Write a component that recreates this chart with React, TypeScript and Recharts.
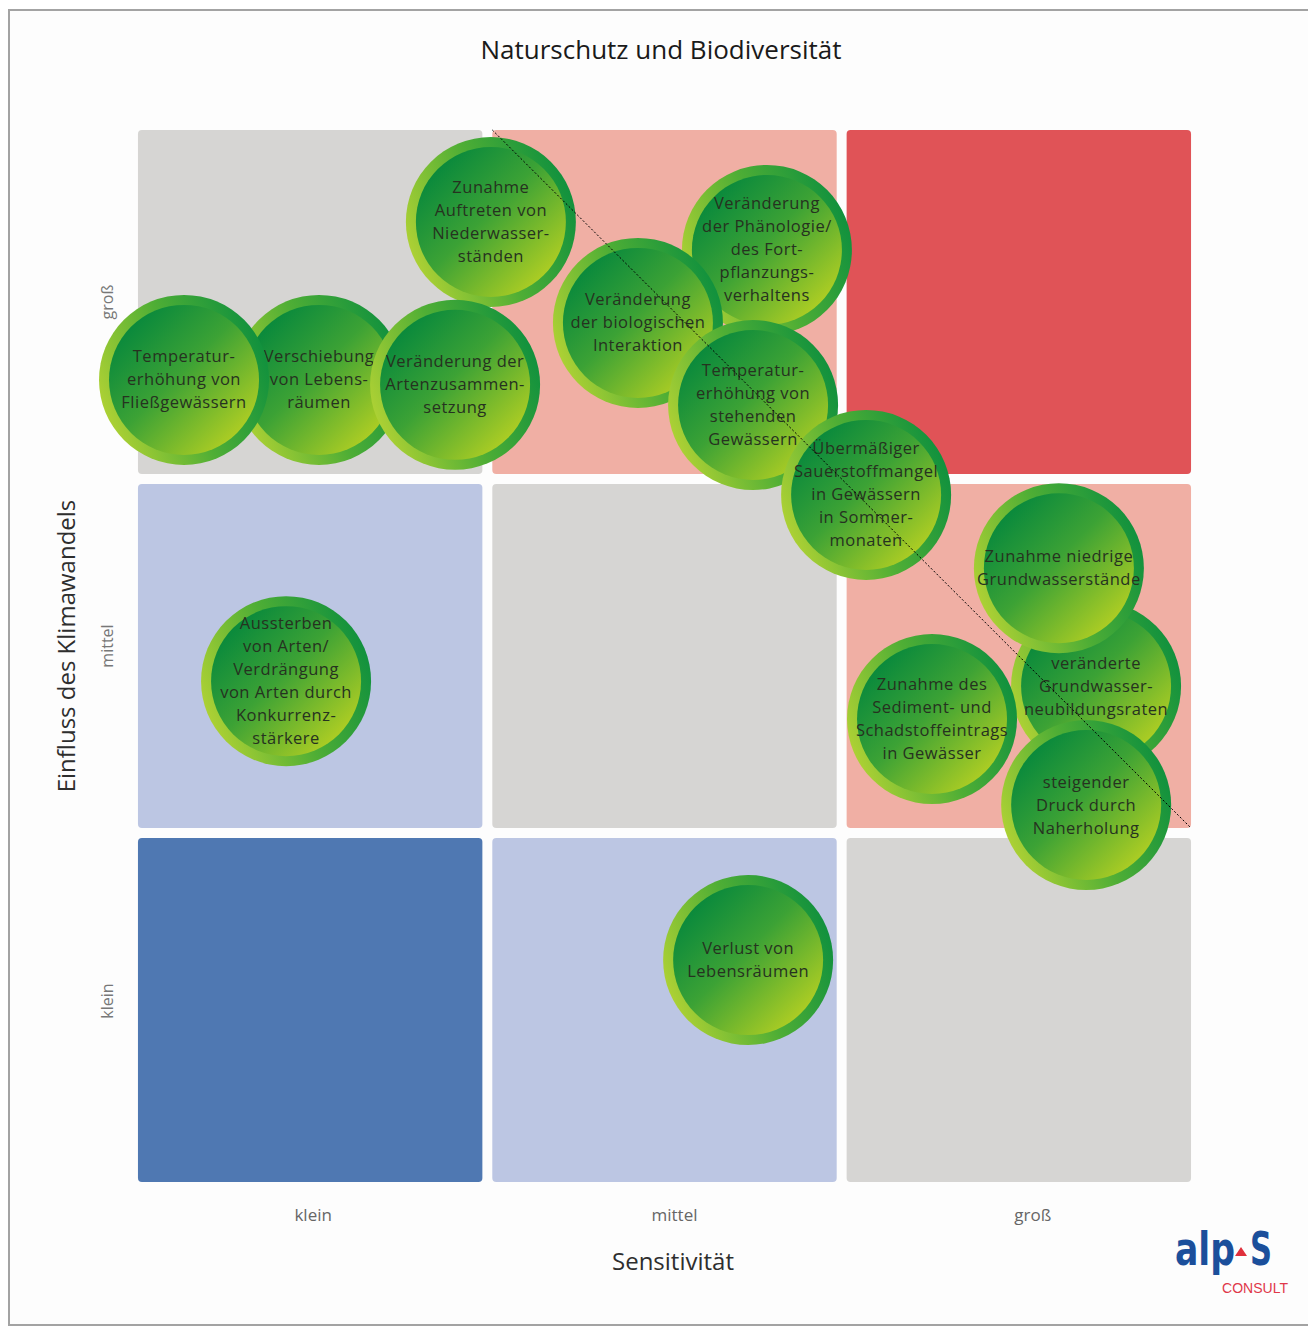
import {
  ScatterChart,
  Scatter,
  XAxis,
  YAxis,
  ReferenceArea,
  ReferenceLine,
  Label,
} from "recharts";

const levels = ["klein", "mittel", "groß"];
const levelTicks = [0.5, 1.5, 2.5];

// cell colours, row 0 = "klein" (bottom), col 0 = "klein" (left)
const cellColors = [
  ["#4f78b2", "#bcc6e3", "#d6d5d3"],
  ["#bcc6e3", "#d6d5d3", "#f0afa4"],
  ["#d6d5d3", "#f0afa4", "#e05357"],
];

// bubbles, in drawing order
const bubbleLabels: string[][] = [
  ["Verschiebung", "von Lebens-", "räumen"],
  ["Temperatur-", "erhöhung von", "Fließgewässern"],
  ["Zunahme", "Auftreten von", "Niederwasser-", "ständen"],
  ["Veränderung der", "Artenzusammen-", "setzung"],
  ["Veränderung", "der Phänologie/", "des Fort-", "pflanzungs-", "verhaltens"],
  ["Veränderung", "der biologischen", "Interaktion"],
  ["Temperatur-", "erhöhung von", "stehenden", "Gewässern"],
  ["Übermäßiger", "Sauerstoffmangel", "in Gewässern", "in Sommer-", "monaten"],
  ["veränderte", "Grundwasser-", "neubildungsraten"],
  ["Zunahme des", "Sediment- und", "Schadstoffeintrags", "in Gewässer"],
  ["Zunahme niedrige", "Grundwasserstände"],
  ["steigender", "Druck durch", "Naherholung"],
  ["Aussterben", "von Arten/", "Verdrängung", "von Arten durch", "Konkurrenz-", "stärkere"],
  ["Verlust von", "Lebensräumen"],
];
const sensitivity = [0.525, 0.144, 1.01, 0.909, 1.789, 1.425, 1.75, 2.069, 2.718, 2.255, 2.613, 2.69, 0.432, 1.736];
const impact = [2.28, 2.28, 2.726, 2.266, 2.647, 2.441, 2.209, 1.955, 1.415, 1.322, 1.748, 1.079, 1.429, 0.641];

const bubbles = bubbleLabels.map((lines, i) => ({
  x: sensitivity[i],
  y: impact[i],
  lines,
}));

const INSET = 0.014;

const Bubble = (props: any) => {
  const { cx, cy } = props;
  const lines: string[] = props.payload?.lines ?? props.lines ?? [];
  const lh = 23;
  const top = cy - 1 - ((lines.length - 1) * lh) / 2;
  return (
    <g>
      <defs>
        <linearGradient id="ringGrad" x1="0" y1="0.7" x2="1" y2="0.3">
          <stop offset="0" stopColor="#b3d334" />
          <stop offset="0.5" stopColor="#4fae35" />
          <stop offset="1" stopColor="#0d8f3e" />
        </linearGradient>
        <linearGradient id="coreGrad" x1="0.15" y1="0.15" x2="0.85" y2="0.85">
          <stop offset="0" stopColor="#0b8a3c" />
          <stop offset="0.45" stopColor="#3ca235" />
          <stop offset="1" stopColor="#aacc24" />
        </linearGradient>
      </defs>
      <circle cx={cx} cy={cy} r={85} fill="url(#ringGrad)" />
      <circle cx={cx} cy={cy} r={75} fill="url(#coreGrad)" />
      {lines.map((t, k) => (
        <text
          key={k}
          x={cx}
          y={top + k * lh}
          textAnchor="middle"
          dominantBaseline="central"
          fontFamily="'Open Sans', sans-serif"
          fontSize={16.5}
          letterSpacing={0.5}
          fill="#263220"
        >
          {t}
        </text>
      ))}
    </g>
  );
};

// small nudges so the tick labels sit where the original puts them
const xTickShift = [3, 10, 14];
const yTickShift = [-9, -10, 0];

const XTick = ({ x, y, payload }: any) => {
  const i = Math.floor(payload.value);
  return (
    <text x={x + xTickShift[i]} y={y + 34} textAnchor="middle" fontFamily="'Open Sans', sans-serif" fontSize={17} fill="#666">
      {levels[i]}
    </text>
  );
};

const YTick = ({ x, y, payload }: any) => {
  const i = Math.floor(payload.value);
  const tx = x - 26;
  const ty = y + yTickShift[i];
  return (
    <text
      x={tx}
      y={ty}
      transform={`rotate(-90, ${tx}, ${ty})`}
      textAnchor="middle"
      dominantBaseline="central"
      fontFamily="'Open Sans', sans-serif"
      fontSize={16}
      fill="#777"
    >
      {levels[i]}
    </text>
  );
};

export default function App() {
  return (
    <div
      style={{
        position: "relative",
        width: 1306,
        height: 1313,
        marginTop: 1,
        borderTop: "2px solid #a3a3a3",
        borderLeft: "2px solid #a3a3a3",
        borderBottom: "2px solid #a3a3a3",
        background: "#fdfdfd",
      }}
    >
      <div
        style={{
          position: "absolute",
          left: 0,
          top: 23,
          width: 1302,
          textAlign: "center",
          fontFamily: "'Open Sans', sans-serif",
          fontSize: 26,
          lineHeight: "30px",
          color: "#1a1a1a",
        }}
      >
        Naturschutz und Biodiversität
      </div>
      <ScatterChart width={1306} height={1313} margin={{ top: 114, right: 120, bottom: 77, left: 63 }}>
        <XAxis
          type="number"
          dataKey="x"
          domain={[0, 3]}
          ticks={levelTicks}
          interval={0}
          tick={<XTick />}
          axisLine={false}
          tickLine={false}
          tickSize={0}
          tickMargin={0}
          height={60}
        >
          <Label
            content={() => (
              <text x={663} y={1249} textAnchor="middle" dominantBaseline="central" fontFamily="'Open Sans', sans-serif" fontSize={24} fill="#2e2e2e">
                Sensitivität
              </text>
            )}
          />
        </XAxis>
        <YAxis
          type="number"
          dataKey="y"
          domain={[0, 3]}
          ticks={levelTicks}
          interval={0}
          tick={<YTick />}
          axisLine={false}
          tickLine={false}
          tickSize={0}
          tickMargin={0}
          width={60}
        >
          <Label
            content={() => (
              <text
                x={55}
                y={635}
                transform="rotate(-90, 55, 635)"
                textAnchor="middle"
                dominantBaseline="central"
                fontFamily="'Open Sans', sans-serif"
                fontSize={24}
                fill="#2e2e2e"
              >
                Einfluss des Klimawandels
              </text>
            )}
          />
        </YAxis>
        {cellColors.map((row, r) =>
          row.map((color, c) => (
            <ReferenceArea
              key={`${r}-${c}`}
              x1={c + INSET}
              x2={c + 1 - INSET}
              y1={r + INSET}
              y2={r + 1 - INSET}
              shape={(p: any) => <rect x={p.x} y={p.y} width={p.width} height={p.height} rx={4} fill={color} />}
            />
          ))
        )}
        <Scatter data={bubbles} shape={<Bubble />} isAnimationActive={false} />
        <ReferenceLine
          segment={[
            { x: 1 + INSET, y: 3 - INSET },
            { x: 3 - INSET, y: 1 + INSET },
          ]}
          stroke="#000"
          strokeWidth={1}
          strokeDasharray="2 2"
          zIndex={1000}
        />
      </ScatterChart>
      <svg width={150} height={110} style={{ position: "absolute", left: 1150, top: 1190 }}>
        <text
          x={15}
          y={64}
          fontFamily="'Liberation Sans Narrow', 'DejaVu Sans Condensed', sans-serif"
          fontWeight="bold"
          fontSize={46}
          fill="#1b4f9b"
          textLength={60}
          lengthAdjust="spacingAndGlyphs"
        >
          alp
        </text>
        <polygon points="75,55 87,55 81,46" fill="#e0303c" />
        <text
          x={90}
          y={64}
          fontFamily="'Liberation Sans Narrow', 'DejaVu Sans Condensed', sans-serif"
          fontWeight="bold"
          fontSize={46}
          fill="#1b4f9b"
          textLength={22}
          lengthAdjust="spacingAndGlyphs"
        >
          S
        </text>
        <text
          x={62}
          y={92}
          fontFamily="'Liberation Sans', sans-serif"
          fontSize={15}
          fill="#e0384a"
          textLength={66}
          lengthAdjust="spacingAndGlyphs"
        >
          CONSULT
        </text>
      </svg>
    </div>
  );
}
